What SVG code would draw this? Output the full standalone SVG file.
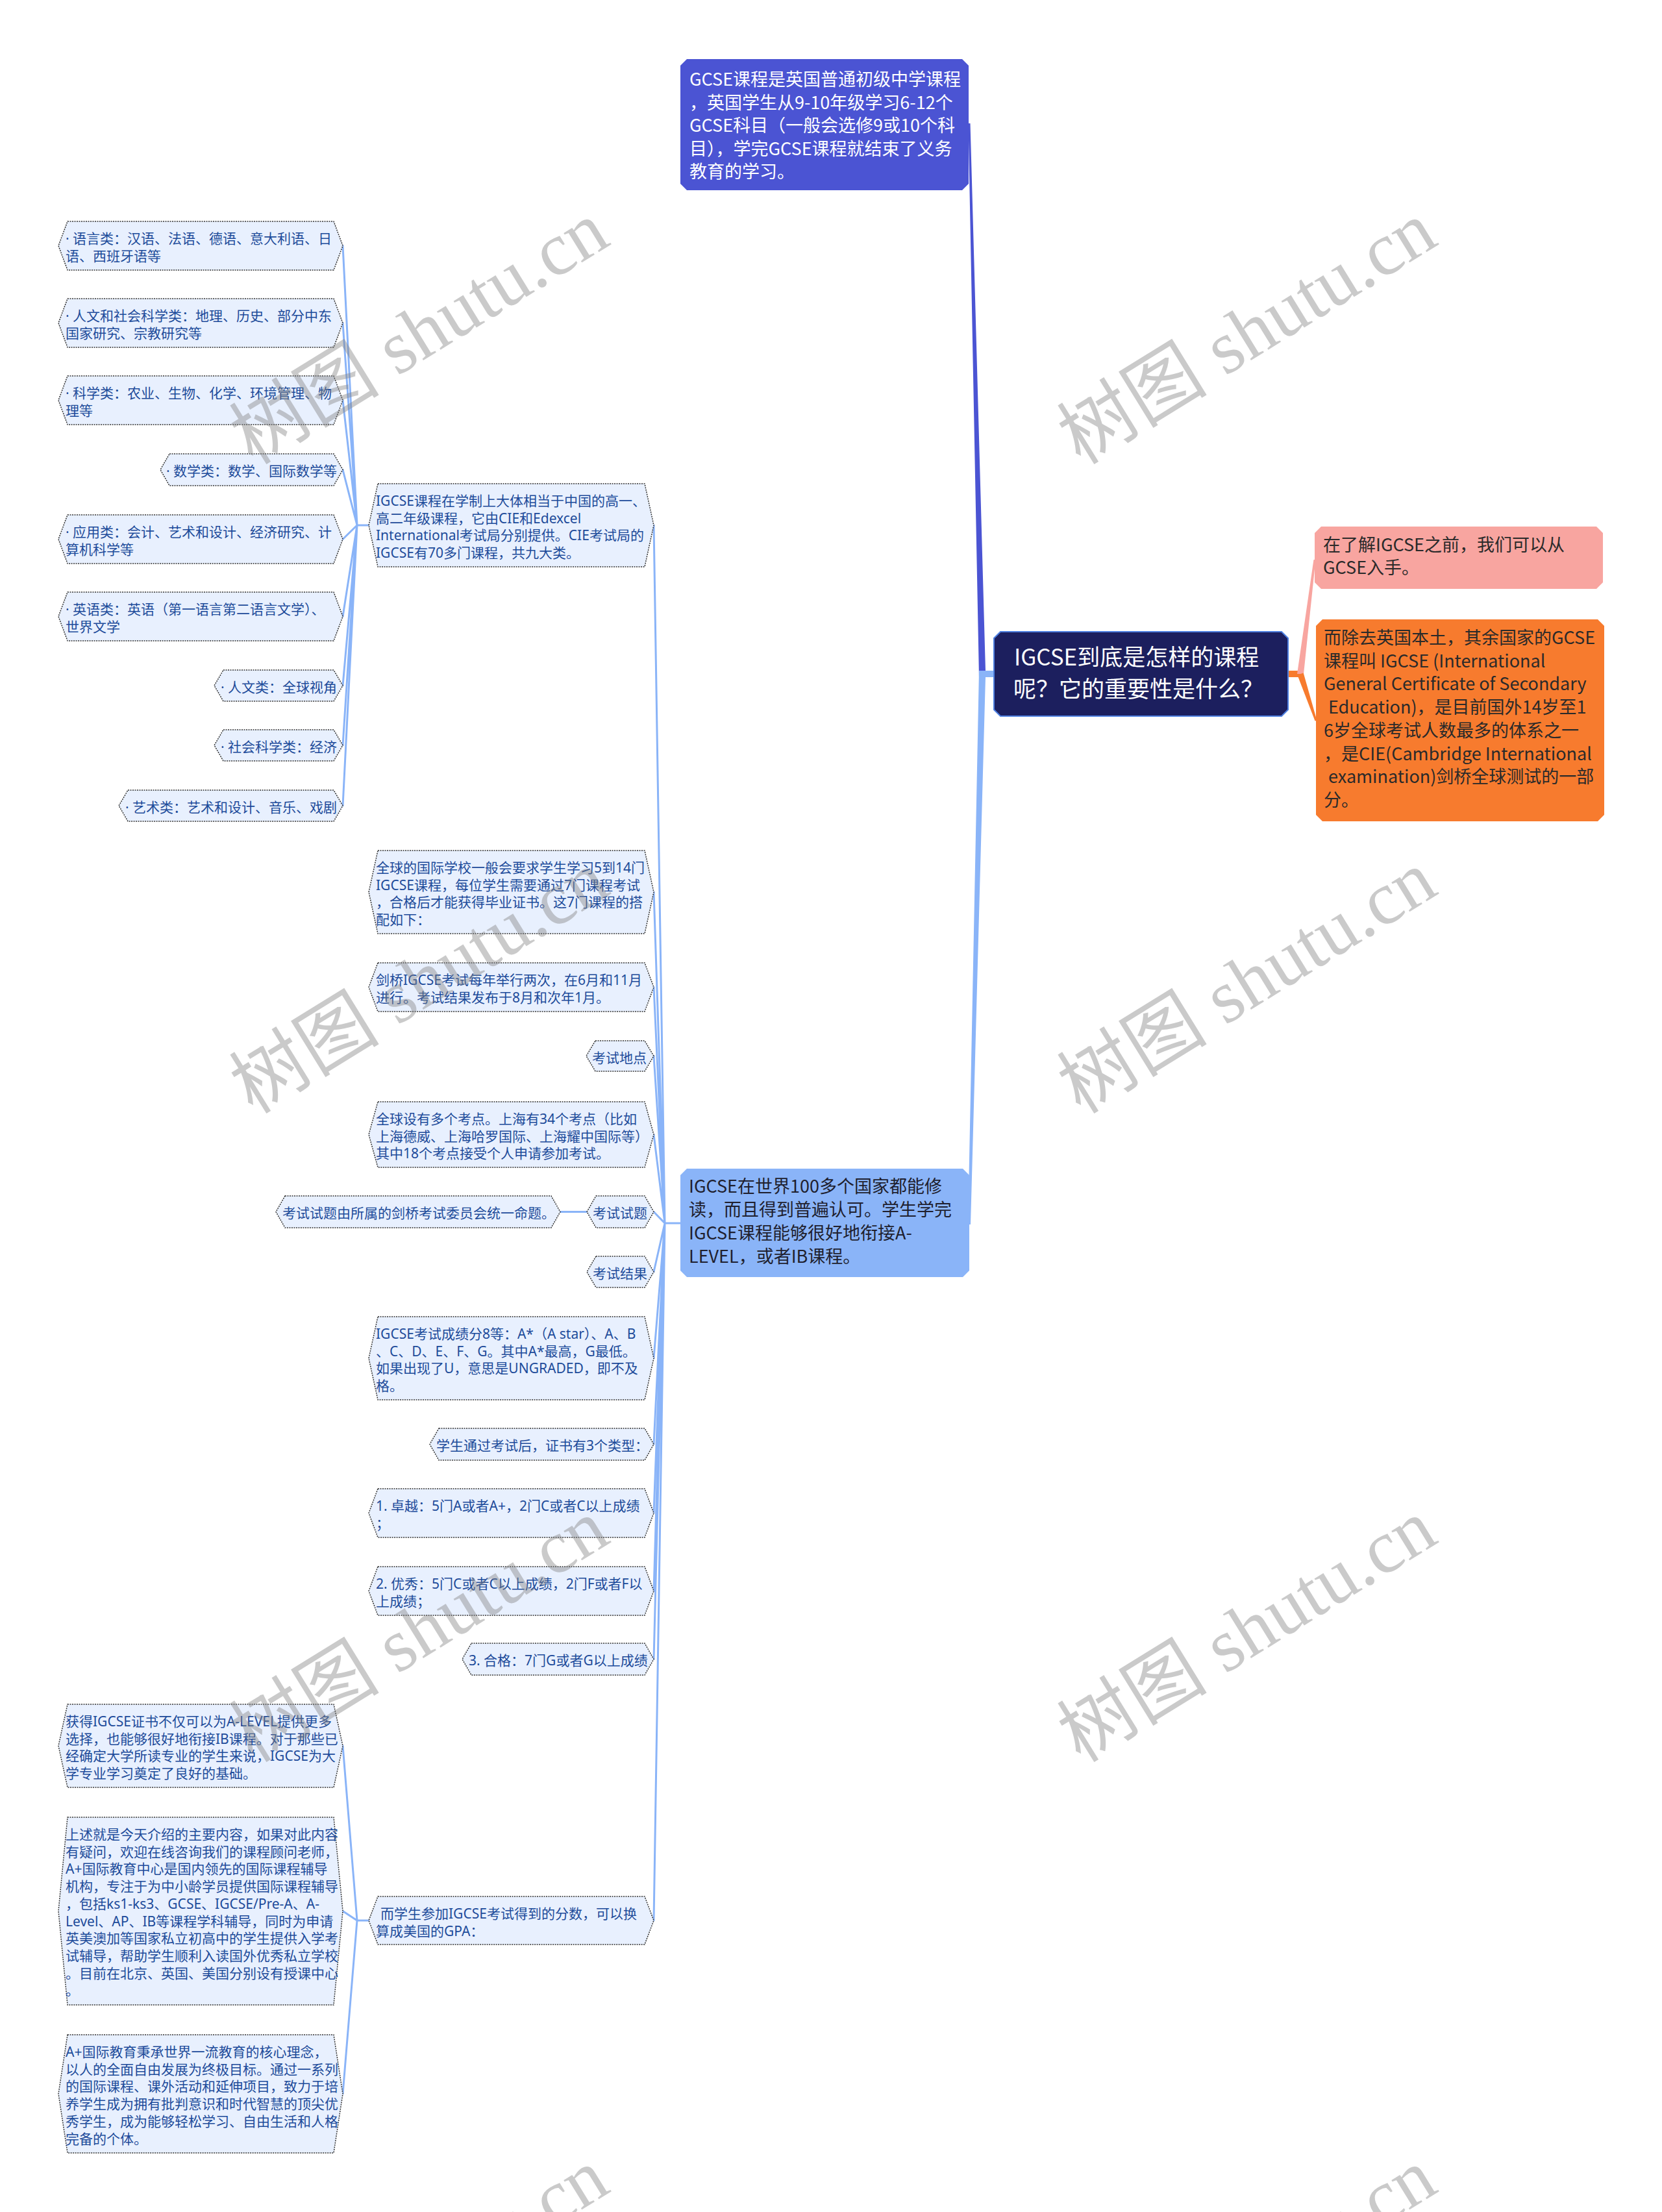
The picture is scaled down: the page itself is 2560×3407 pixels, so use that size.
<svg xmlns="http://www.w3.org/2000/svg" width="2560" height="3407" viewBox="0 0 2560 3407">
<style>
.hex{fill:#e8f0fe;stroke:#333;stroke-width:1.5;stroke-dasharray:2 1.5}
.ht{font-family:"Noto Sans","Noto Sans CJK SC",sans-serif;font-size:21px;fill:#1d4b9a}
.lt{font-family:"Noto Sans CJK SC","Noto Sans",sans-serif;font-size:27px}
.rt{font-family:"Noto Sans CJK SC","Noto Sans",sans-serif;font-size:35px;fill:#fff}
.c{fill:none;stroke:#8ab4f8;stroke-width:3;stroke-linecap:round}
.wm{font-family:"Liberation Serif","Noto Sans CJK SC",serif;font-size:116px;fill:#808080;fill-opacity:0.42}
</style>
<rect width="2560" height="3407" fill="#fff"/>
<g id="connectors">
  <polygon points="1531,1033 1518,1033 1494.5,190 1491.5,190 1508,1043 1531,1043" fill="#4b54d3"/>
  <polygon points="1531,1033 1508,1033 1491,1886 1495,1886 1518,1043 1531,1043" fill="#8ab4f8"/>
  <rect x="1984" y="1033" width="19" height="10" fill="#f77b2e"/>
  <polygon points="1998,1038 2023.5,862 2026.5,862 2008,1038" fill="#f8a5a0"/>
  <polygon points="1998.3,1039.6 2025.6,1110.5 2028.4,1109.5 2007.7,1036.4" fill="#f77b2e"/>
  <path class="c" d="M1048,1884 L1024,1884 M1024,1884 L1007,809 M1024,1884 L1007,1374 M1024,1884 L1007,1520.5 M1024,1884 L1007,1626.5 M1024,1884 L1007,1747.5 M1024,1884 L1007,1866.5 M1024,1884 L1007,1959 M1024,1884 L1007,2092 M1024,1884 L1007,2224.5 M1024,1884 L1007,2330.5 M1024,1884 L1007,2450.5 M1024,1884 L1007,2555.5 M1024,1884 L1007,2958"/>
  <path class="c" d="M904,1866.5 L863,1866.5"/>
  <path class="c" d="M568,809 L550,809 M550,809 L528,378.5 M550,809 L528,497.5 M550,809 L528,616.5 M550,809 L528,723.5 M550,809 L528,830.5 M550,809 L528,949.5 M550,809 L528,1056 M550,809 L528,1148 M550,809 L528,1241"/>
  <path class="c" d="M568,2958 L550,2958 M550,2958 L528,2689 M550,2958 L528,2943.5 M550,2958 L528,3225"/>
</g>
<g id="root">
  <polygon points="1541,973 1974,973 1984,983 1984,1093 1974,1103 1541,1103 1531,1093 1531,983" fill="#1c1f5e" stroke="#4d7fe0" stroke-width="2"/>
  <text class="rt"><tspan x="1562" y="1025">IGCSE到底是怎样的课程</tspan><tspan x="1561" y="1074">呢？它的重要性是什么？</tspan></text>
</g>
<g id="n-gcse">
  <polygon points="1058,91 1482,91 1492,101 1492,283 1482,293 1058,293 1048,283 1048,101" fill="#4b54d3"/>
  <text class="lt" fill="#fff"><tspan x="1062" y="132">GCSE课程是英国普通初级中学课程</tspan><tspan x="1062" y="167.5">，英国学生从9-10年级学习6-12个</tspan><tspan x="1062" y="203">GCSE科目（一般会选修9或10个科</tspan><tspan x="1062" y="238.5">目），学完GCSE课程就结束了义务</tspan><tspan x="1062" y="274">教育的学习。</tspan></text>
</g>
<g id="n-pink">
  <polygon points="2035,811 2459,811 2469,821 2469,897 2459,907 2035,907 2025,897 2025,821" fill="#f8a5a0"/>
  <text class="lt" fill="#2a2a2a"><tspan x="2038" y="849">在了解IGCSE之前，我们可以从</tspan><tspan x="2038" y="884">GCSE入手。</tspan></text>
</g>
<g id="n-orange">
  <polygon points="2037,954 2461,954 2471,964 2471,1255 2461,1265 2037,1265 2027,1255 2027,964" fill="#f77b2e"/>
  <text class="lt" fill="#2a2a2a"><tspan x="2039" y="992">而除去英国本土，其余国家的GCSE</tspan><tspan x="2039" y="1027.7">课程叫 IGCSE (International</tspan><tspan x="2039" y="1063.4">General Certificate of Secondary</tspan><tspan x="2046" y="1099.1">Education)，是目前国外14岁至1</tspan><tspan x="2039" y="1134.8">6岁全球考试人数最多的体系之一</tspan><tspan x="2039" y="1170.5">，是CIE(Cambridge International</tspan><tspan x="2046" y="1206.2">examination)剑桥全球测试的一部</tspan><tspan x="2039" y="1242">分。</tspan></text>
</g>
<g id="n-main">
  <polygon points="1058,1800 1483,1800 1493,1810 1493,1957 1483,1967 1058,1967 1048,1957 1048,1810" fill="#8ab4f8"/>
  <text class="lt" fill="#1f1f2e"><tspan x="1061" y="1837">IGCSE在世界100多个国家都能修</tspan><tspan x="1061" y="1873">读，而且得到普遍认可。学生学完</tspan><tspan x="1061" y="1909">IGCSE课程能够很好地衔接A-</tspan><tspan x="1061" y="1945">LEVEL，或者IB课程。</tspan></text>
</g>
<g id="n-a">
  <polygon class="hex" points="582,745 993,745 1007,809 993,873 582,873 568,809"/>
  <text class="ht"><tspan x="579" y="779">IGCSE课程在学制上大体相当于中国的高一、</tspan><tspan x="579" y="805.7">高二年级课程，它由CIE和Edexcel</tspan><tspan x="579" y="832.4">International考试局分别提供。CIE考试局的</tspan><tspan x="579" y="859.1">IGCSE有70多门课程，共九大类。</tspan></text>
</g>
<g id="n-a1">
  <polygon class="hex" points="104,341 514,341 528,378.5 514,416 104,416 90,378.5"/>
  <text class="ht"><tspan x="101" y="375">· 语言类：汉语、法语、德语、意大利语、日</tspan><tspan x="101" y="401.7">语、西班牙语等</tspan></text>
</g>
<g id="n-a2">
  <polygon class="hex" points="104,460 514,460 528,497.5 514,535 104,535 90,497.5"/>
  <text class="ht"><tspan x="101" y="494">· 人文和社会科学类：地理、历史、部分中东</tspan><tspan x="101" y="520.7">国家研究、宗教研究等</tspan></text>
</g>
<g id="n-a3">
  <polygon class="hex" points="104,579 514,579 528,616.5 514,654 104,654 90,616.5"/>
  <text class="ht"><tspan x="101" y="613">· 科学类：农业、生物、化学、环境管理、物</tspan><tspan x="101" y="639.7">理等</tspan></text>
</g>
<g id="n-a4">
  <polygon class="hex" points="261,699 514,699 528,723.5 514,748 261,748 247,723.5"/>
  <text class="ht" x="256" y="733">· 数学类：数学、国际数学等</text>
</g>
<g id="n-a5">
  <polygon class="hex" points="104,793 514,793 528,830.5 514,868 104,868 90,830.5"/>
  <text class="ht"><tspan x="101" y="827">· 应用类：会计、艺术和设计、经济研究、计</tspan><tspan x="101" y="853.7">算机科学等</tspan></text>
</g>
<g id="n-a6">
  <polygon class="hex" points="104,912 514,912 528,949.5 514,987 104,987 90,949.5"/>
  <text class="ht"><tspan x="101" y="946">· 英语类：英语（第一语言第二语言文学）、</tspan><tspan x="101" y="972.7">世界文学</tspan></text>
</g>
<g id="n-a7">
  <polygon class="hex" points="344,1032 514,1032 528,1056 514,1080 344,1080 330,1056"/>
  <text class="ht" x="340" y="1066">· 人文类：全球视角</text>
</g>
<g id="n-a8">
  <polygon class="hex" points="344,1124 514,1124 528,1148 514,1172 344,1172 330,1148"/>
  <text class="ht" x="340" y="1158">· 社会科学类：经济</text>
</g>
<g id="n-a9">
  <polygon class="hex" points="197,1217 514,1217 528,1241 514,1265 197,1265 183,1241"/>
  <text class="ht" x="193" y="1251">· 艺术类：艺术和设计、音乐、戏剧</text>
</g>
<g id="n-b">
  <polygon class="hex" points="582,1310 993,1310 1007,1374 993,1438 582,1438 568,1374"/>
  <text class="ht"><tspan x="579" y="1344">全球的国际学校一般会要求学生学习5到14门</tspan><tspan x="579" y="1370.7">IGCSE课程，每位学生需要通过7门课程考试</tspan><tspan x="579" y="1397.4">，合格后才能获得毕业证书。这7门课程的搭</tspan><tspan x="579" y="1424.1">配如下：</tspan></text>
</g>
<g id="n-c">
  <polygon class="hex" points="582,1483 993,1483 1007,1520.5 993,1558 582,1558 568,1520.5"/>
  <text class="ht"><tspan x="579" y="1517">剑桥IGCSE考试每年举行两次，在6月和11月</tspan><tspan x="579" y="1543.7">进行。考试结果发布于8月和次年1月。</tspan></text>
</g>
<g id="n-d">
  <polygon class="hex" points="917,1603 993,1603 1007,1626.5 993,1650 917,1650 903,1626.5"/>
  <text class="ht" x="912" y="1637">考试地点</text>
</g>
<g id="n-e">
  <polygon class="hex" points="582,1697 993,1697 1007,1747.5 993,1798 582,1798 568,1747.5"/>
  <text class="ht"><tspan x="579" y="1731">全球设有多个考点。上海有34个考点（比如</tspan><tspan x="579" y="1757.7">上海德威、上海哈罗国际、上海耀中国际等）</tspan><tspan x="579" y="1784.4">其中18个考点接受个人申请参加考试。</tspan></text>
</g>
<g id="n-f">
  <polygon class="hex" points="918,1842 993,1842 1007,1866.5 993,1891 918,1891 904,1866.5"/>
  <text class="ht" x="913" y="1876">考试试题</text>
</g>
<g id="n-f1">
  <polygon class="hex" points="439,1842 849,1842 863,1866.5 849,1891 439,1891 425,1866.5"/>
  <text class="ht" x="435" y="1876">考试试题由所属的剑桥考试委员会统一命题。</text>
</g>
<g id="n-g">
  <polygon class="hex" points="918,1935 993,1935 1007,1959 993,1983 918,1983 904,1959"/>
  <text class="ht" x="913" y="1969">考试结果</text>
</g>
<g id="n-h">
  <polygon class="hex" points="582,2028 993,2028 1007,2092 993,2156 582,2156 568,2092"/>
  <text class="ht"><tspan x="579" y="2062">IGCSE考试成绩分8等：A*（A star）、A、B</tspan><tspan x="579" y="2088.7">、C、D、E、F、G。其中A*最高，G最低。</tspan><tspan x="579" y="2115.4">如果出现了U，意思是UNGRADED，即不及</tspan><tspan x="579" y="2142.1">格。</tspan></text>
</g>
<g id="n-i">
  <polygon class="hex" points="676,2200 993,2200 1007,2224.5 993,2249 676,2249 662,2224.5"/>
  <text class="ht" x="672" y="2234">学生通过考试后，证书有3个类型：</text>
</g>
<g id="n-j">
  <polygon class="hex" points="582,2293 993,2293 1007,2330.5 993,2368 582,2368 568,2330.5"/>
  <text class="ht"><tspan x="579" y="2327">1. 卓越：5门A或者A+，2门C或者C以上成绩</tspan><tspan x="579" y="2353.7">；</tspan></text>
</g>
<g id="n-k">
  <polygon class="hex" points="582,2413 993,2413 1007,2450.5 993,2488 582,2488 568,2450.5"/>
  <text class="ht"><tspan x="579" y="2447">2. 优秀：5门C或者C以上成绩，2门F或者F以</tspan><tspan x="579" y="2473.7">上成绩；</tspan></text>
</g>
<g id="n-l">
  <polygon class="hex" points="726,2531 993,2531 1007,2555.5 993,2580 726,2580 712,2555.5"/>
  <text class="ht" x="722" y="2565">3. 合格：7门G或者G以上成绩</text>
</g>
<g id="n-m">
  <polygon class="hex" points="582,2921 993,2921 1007,2958 993,2995 582,2995 568,2958"/>
  <text class="ht"><tspan x="586" y="2955">而学生参加IGCSE考试得到的分数，可以换</tspan><tspan x="579" y="2981.7">算成美国的GPA：</tspan></text>
</g>
<g id="n-m1">
  <polygon class="hex" points="104,2625 514,2625 528,2689 514,2753 104,2753 90,2689"/>
  <text class="ht"><tspan x="101" y="2659">获得IGCSE证书不仅可以为A-LEVEL提供更多</tspan><tspan x="101" y="2685.7">选择，也能够很好地衔接IB课程。对于那些已</tspan><tspan x="101" y="2712.4">经确定大学所读专业的学生来说，IGCSE为大</tspan><tspan x="101" y="2739.1">学专业学习奠定了良好的基础。</tspan></text>
</g>
<g id="n-m2">
  <polygon class="hex" points="104,2799 514,2799 528,2943.5 514,3088 104,3088 90,2943.5"/>
  <text class="ht"><tspan x="101" y="2833">上述就是今天介绍的主要内容，如果对此内容</tspan><tspan x="101" y="2859.7">有疑问，欢迎在线咨询我们的课程顾问老师，</tspan><tspan x="101" y="2886.4">A+国际教育中心是国内领先的国际课程辅导</tspan><tspan x="101" y="2913.1">机构，专注于为中小龄学员提供国际课程辅导</tspan><tspan x="101" y="2939.8">，包括ks1-ks3、GCSE、IGCSE/Pre-A、A-</tspan><tspan x="101" y="2966.5">Level、AP、IB等课程学科辅导，同时为申请</tspan><tspan x="101" y="2993.2">英美澳加等国家私立初高中的学生提供入学考</tspan><tspan x="101" y="3019.9">试辅导，帮助学生顺利入读国外优秀私立学校</tspan><tspan x="101" y="3046.6">。目前在北京、英国、美国分别设有授课中心</tspan><tspan x="101" y="3073.3">。</tspan></text>
</g>
<g id="n-m3">
  <polygon class="hex" points="104,3134 514,3134 528,3225 514,3316 104,3316 90,3225"/>
  <text class="ht"><tspan x="101" y="3168">A+国际教育秉承世界一流教育的核心理念，</tspan><tspan x="101" y="3194.7">以人的全面自由发展为终极目标。通过一系列</tspan><tspan x="101" y="3221.4">的国际课程、课外活动和延伸项目，致力于培</tspan><tspan x="101" y="3248.1">养学生成为拥有批判意识和时代智慧的顶尖优</tspan><tspan x="101" y="3274.8">秀学生，成为能够轻松学习、自由生活和人格</tspan><tspan x="101" y="3301.5">完备的个体。</tspan></text>
</g>
<g id="watermarks">
  <text class="wm" text-anchor="middle" dominant-baseline="central" transform="translate(646,513) rotate(-31.7)">树图 shutu.cn</text>
  <text class="wm" text-anchor="middle" dominant-baseline="central" transform="translate(1921,513) rotate(-31.7)">树图 shutu.cn</text>
  <text class="wm" text-anchor="middle" dominant-baseline="central" transform="translate(646,1513) rotate(-31.7)">树图 shutu.cn</text>
  <text class="wm" text-anchor="middle" dominant-baseline="central" transform="translate(1921,1513) rotate(-31.7)">树图 shutu.cn</text>
  <text class="wm" text-anchor="middle" dominant-baseline="central" transform="translate(646,2512) rotate(-31.7)">树图 shutu.cn</text>
  <text class="wm" text-anchor="middle" dominant-baseline="central" transform="translate(1921,2512) rotate(-31.7)">树图 shutu.cn</text>
  <text class="wm" text-anchor="middle" dominant-baseline="central" transform="translate(646,3512) rotate(-31.7)">树图 shutu.cn</text>
  <text class="wm" text-anchor="middle" dominant-baseline="central" transform="translate(1921,3512) rotate(-31.7)">树图 shutu.cn</text>
</g>
</svg>
